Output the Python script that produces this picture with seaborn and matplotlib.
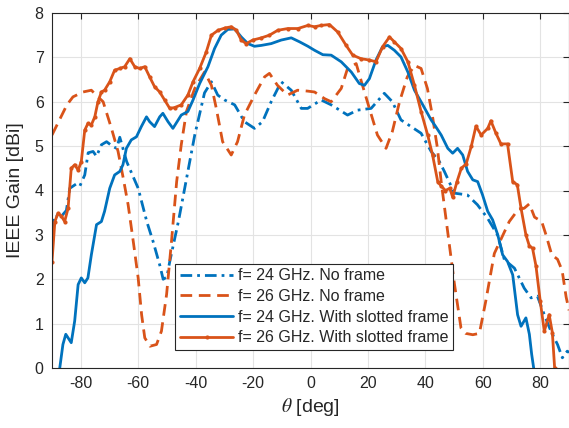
import numpy as np
import pandas as pd
import matplotlib
matplotlib.use("Agg")
import matplotlib.pyplot as plt
import seaborn as sns

# f = 24 GHz, no frame
theta_a = [-90, -89, -87, -85, -83.8, -81.5, -80.3, -78.6, -77.4, -75.7, -74.5, -72.8, -71, -69, -67.5,
           -66.4, -64, -60, -57, -54.8, -52.4, -51.3, -50, -49, -46, -43.8, -40.3, -36.9, -34.5, -32.3,
           -29.9, -26.4, -23, -19.5, -16.7, -13.7, -10.2, -6.7, -3.2, -1, 3.7, 7.2, 12.9, 16.3, 21.1,
           25.7, 28.5, 31.5, 35, 38.5, 42, 44.9, 46.6, 50.1, 54.6, 58.1, 61.6, 65.1, 67.5, 71, 74.4,
           76.8, 79, 81.4, 83.7, 86, 87.7, 89.4, 90]
gain_a = [3.1, 3.45, 3.4, 3.55, 4.05, 4.15, 4.1, 4.35, 4.85, 4.88, 4.77, 5.03, 5.1, 5.0, 4.95,
          5.2, 4.65, 4.05, 3.3, 2.85, 2.3, 2.0, 2.05, 2.4, 3.3, 4.05, 5.25, 6.2, 6.45, 6.15,
          6.04, 5.93, 5.55, 5.4, 5.55, 6.0, 6.45, 6.26, 5.85, 5.85, 6.04, 5.93, 5.7, 5.81, 5.85,
          6.19, 6.0, 5.59, 5.44, 5.29, 4.88, 4.65, 4.43, 3.94, 3.9, 3.68, 3.38, 3.0, 2.44, 2.25, 1.8,
          1.58, 1.62, 1.2, 0.83, 0.53, 0.23, 0.38, 0.35]

# f = 26 GHz, no frame
theta_b = [-90, -87.1, -84.8, -82.7, -79.2, -76.3, -74, -72.2, -69.3, -67, -65.2, -63.5, -61.7, -60,
           -58.8, -57.7, -55.9, -53.6, -51.9, -50.1, -48.4, -46.6, -45, -43.2, -40.3, -36.9, -34.5,
           -32.8, -30.6, -27.6, -25.4, -23, -19.5, -16, -14.3, -11.5, -8, -4.5, -1, 1.4, 4.9, 7.2,
           10.7, 12.9, 15.9, 18.1, 20.5, 23.3, 26.3, 28.5, 31, 33.7, 36.2, 38.5, 40.7, 42.4, 44.2,
           45.5, 47.8, 50.1, 52.4, 54, 56.5, 58.8, 61, 64, 66.3, 69.2, 72.4, 74.4, 76.2, 78, 80.5,
           82, 84, 86, 87.6, 89, 90]
gain_b = [5.25, 5.63, 5.93, 6.11, 6.22, 6.26, 6.11, 6.0, 5.4, 4.88, 4.28, 3.68, 2.85, 2.03,
          1.2, 0.68, 0.49, 0.53, 0.83, 1.66, 2.85, 4.2, 5.03, 5.78, 6.3, 6.67, 6.37,
          5.85, 5.1, 4.8, 5.1, 5.7, 6.15, 6.56, 6.64, 6.37, 6.15, 6.26, 6.24, 6.22, 6.07, 6.0,
          6.3, 6.75, 6.86, 6.37, 5.85, 5.25, 4.95, 5.33, 6.0, 6.56, 6.82, 6.75, 6.3, 5.7, 4.95,
          4.2, 3.05, 1.9, 0.9, 0.78, 0.75, 0.78, 1.5, 2.58, 2.9, 3.3, 3.58, 3.6, 3.7, 3.4, 3.3,
          3.0, 2.55, 2.45, 2.2, 1.6, 1.3]

# f = 24 GHz, with slotted frame
theta_c = [-88, -87.3, -86.2, -85.2, -84.4, -83.3, -82.1, -80.9, -79.8, -78.6, -77.5, -76.3, -74.5,
           -72.8, -71.7, -69.9, -68.2, -66.4, -65.3, -64.1, -62.4, -60.6, -58.9, -57.1, -56, -54.3,
           -52.5, -51.4, -49.6, -47.9, -45, -42.7, -40.9, -38.6, -35.7, -33.4, -31.1, -28.8, -26.4,
           -24.1, -21.8, -19.5, -17.1, -13.7, -10.2, -6.7, -3.8, -0.9, 1.4, 4.3, 7.2, 10.7, 14.2,
           17, 18.8, 20.5, 22.8, 25.1, 26.9, 29.2, 31.5, 33.9, 36.2, 39.1, 42, 43.5, 45.5, 47.8,
           49.5, 51.2, 53, 54.7, 56.5, 58.2, 59.9, 61.7, 63.4, 65.2, 66.9, 68.6, 70.4, 72.1, 73.3,
           75, 76.2, 77, 77.7, 78.5]
gain_c = [-0.6, 0, 0.53, 0.76, 0.68, 0.57, 1.06, 1.88, 2.03, 1.92, 2.03, 2.55, 3.23,
          3.3, 3.53, 4.05, 4.35, 4.43, 4.58, 4.95, 5.14, 5.21, 5.44, 5.66, 5.55, 5.44,
          5.66, 5.74, 5.55, 5.4, 5.7, 5.78, 6.04, 6.41, 6.79, 7.2, 7.5, 7.63, 7.64,
          7.46, 7.31, 7.25, 7.27, 7.31, 7.39, 7.44, 7.35, 7.25, 7.16, 7.06, 7.05, 6.9, 6.67,
          6.41, 6.37, 6.52, 6.94, 7.24, 7.27, 7.16, 7.01, 6.67, 6.26, 5.93, 5.59, 5.45, 5.25, 4.95,
          4.84, 4.95, 4.8, 4.43, 4.24, 4.2, 3.9, 3.53, 3.34, 3.0, 2.55, 2.4, 2.1, 1.2, 0.94,
          1.13, 0.76, 0.31, 0, -0.6]

# f = 26 GHz, with slotted frame
theta_d = [-90, -89, -87.9, -86.7, -85.6, -84.4, -83.3, -82.1, -80.9, -79.8, -78.6, -77.5, -76.3,
           -75.1, -74, -72.8, -71.7, -69.9, -68.2, -66.4, -64.7, -62.9, -61.2, -59.5, -57.7, -56,
           -54.3, -52.5, -50.8, -49, -47.3, -45, -42.7, -40.9, -38.6, -36.3, -34.5, -32.2, -29.9,
           -27.6, -25.8, -24.1, -22.4, -20.1, -17.1, -14.3, -11.4, -7.9, -4.4, -0.9, 1.4, 3.7, 6.6,
           9.5, 12.4, 14.7, 17.6, 20.5, 22.8, 25.1, 27.5, 29.2, 31.5, 33.9, 36.2, 38.5, 40.8, 42.5,
           44.3, 45.5, 47, 48.5, 49.5, 51, 52.5, 54.2, 56, 57.6, 59.4, 61.7, 62.8, 64.5, 66.3, 68.6,
           70.4, 72, 73.3, 75, 76.2, 77.3, 78.5, 80, 81.4, 83.1, 84.2, 85, 85.5]
gain_d = [2.4, 3.3, 3.49, 3.42, 3.3, 3.6, 4.5, 4.58, 4.46, 4.65, 5.36, 5.51, 5.48,
          5.66, 6.0, 6.22, 6.26, 6.45, 6.71, 6.75, 6.79, 6.97, 6.79, 6.75, 6.79, 6.56,
          6.34, 6.22, 6.04, 5.85, 5.87, 5.93, 6.15, 6.45, 6.75, 7.12, 7.5, 7.61, 7.66,
          7.69, 7.61, 7.39, 7.31, 7.39, 7.44, 7.5, 7.61, 7.65, 7.65, 7.72, 7.69, 7.72, 7.74,
          7.57, 7.27, 7.05, 6.97, 6.94, 6.9, 7.24, 7.46, 7.35, 7.2, 6.9, 6.37, 5.78, 5.25, 4.8,
          4.2, 4.1, 4.0, 4.05, 3.85, 4.2, 4.5, 4.6, 5.0, 5.45, 5.25, 5.4, 5.57, 5.3, 5.05, 5.05,
          4.2, 4.13, 3.6, 3.0, 2.75, 2.7, 2.3, 1.5, 0.83, 1.2, 0.8, 0, -0.6]

labels = ["f= 24 GHz. No frame", "f= 26 GHz. No frame",
          "f= 24 GHz. With slotted frame", "f= 26 GHz. With slotted frame"]

blue = "#0072BD"
orange = "#D95319"

sns.set_theme(style="whitegrid")
plt.rcParams['font.family'] = ['Liberation Sans', 'DejaVu Sans']
plt.rcParams['mathtext.fontset'] = 'stix'
plt.rcParams['axes.unicode_minus'] = False

fig = plt.figure(figsize=(5.69, 4.28), dpi=100)
ax = fig.add_axes([52/569, 60/428, 517/569, 355/428])

series = [
    (theta_a, gain_a, dict(color=blue, linestyle=(0, (4.2, 1.8, 1, 1.8)))),
    (theta_b, gain_b, dict(color=orange, linestyle=(0, (4.2, 2.4)))),
    (theta_c, gain_c, dict(color=blue, linestyle='-')),
    (theta_d, gain_d, dict(color=orange, linestyle='-', marker='o', markersize=3,
                           markeredgewidth=0)),
]
for (th, g, kw), lab in zip(series, labels):
    df = pd.DataFrame({"theta": th, "gain": g})
    sns.lineplot(data=df, x="theta", y="gain", ax=ax, sort=False, estimator=None,
                 linewidth=2.0, label=lab, **kw)

ax.set_xlim(-90, 90)
ax.set_ylim(0, 8)
ax.set_xticks(np.arange(-80, 81, 20))
ax.set_yticks(np.arange(0, 9, 1))
ax.set_xlabel(r"$\theta$ [deg]", fontsize=14, color="#262626", labelpad=3)
ax.set_ylabel("IEEE Gain [dBi]", fontsize=14, color="#262626", labelpad=8)

ax.set_facecolor("white")
ax.grid(True, color="#e3e3e3", linewidth=0.8)
for sp in ax.spines.values():
    sp.set_color("#262626")
    sp.set_linewidth(0.8)
ax.tick_params(direction="in", top=True, right=True, length=4, width=0.8,
               colors="#262626", labelsize=11.5, pad=6)

leg = ax.legend(loc="lower right", bbox_to_anchor=(0.776, 0.051), fontsize=11.5,
                frameon=True, fancybox=False, framealpha=1, edgecolor="#262626",
                handlelength=3.3, borderaxespad=0, borderpad=0.3, labelspacing=0.35,
                handletextpad=0.3)
leg.get_frame().set_linewidth(0.8)

fig.savefig("out.png", dpi=100)
